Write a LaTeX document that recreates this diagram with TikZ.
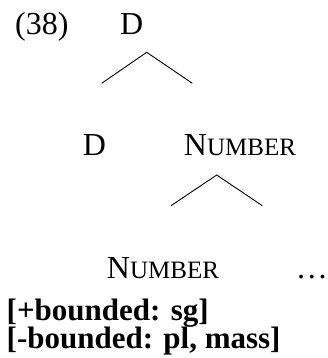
\documentclass[tikz,border=0pt]{standalone}
\usepackage{fontspec}
\setmainfont{Liberation Serif}
\newcommand\fakesc[1]{{\fontsize{25}{25}\selectfont #1}}
\begin{document}
\begin{tikzpicture}[x=1pt,y=-1pt,
    lbl/.style={inner sep=0pt,anchor=base,font=\fontsize{32}{28}\selectfont},
    feat/.style={lbl,anchor=base west,font=\fontsize{31}{28}\selectfont\bfseries}]
  \useasboundingbox (0,0) rectangle (328,358);
  % labels
  \node[lbl,anchor=base west] (ex) at (15,35) {(38)};
  \node[lbl] (dtop) at (131.7,35) {D};
  \node[lbl] (dlow) at (94.5,156) {D};
  \node[lbl] (num) at (240,156) {N\fakesc{UMBER}};
  \node[lbl] (numlow) at (163,278) {N\fakesc{UMBER}};
  \node[lbl,anchor=base east] (dots) at (328,278) {\dots};
  \node[feat] (bnd) at (6.5,320) {[+bounded: sg]};
  \node[feat] (unbnd) at (6.5,348) {[-bounded: pl, mass]};
  % branches
  \coordinate (t1) at (146.7,52.3);
  \coordinate (l1) at (101.7,83.3);
  \coordinate (r1) at (192.3,83.3);
  \coordinate (t2) at (216.7,175);
  \coordinate (l2) at (171,205.7);
  \coordinate (r2) at (262.3,205.7);
  \draw[line width=0.9pt] (l1) -- (t1) -- (r1);
  \draw[line width=0.9pt] (l2) -- (t2) -- (r2);
\end{tikzpicture}
\end{document}
